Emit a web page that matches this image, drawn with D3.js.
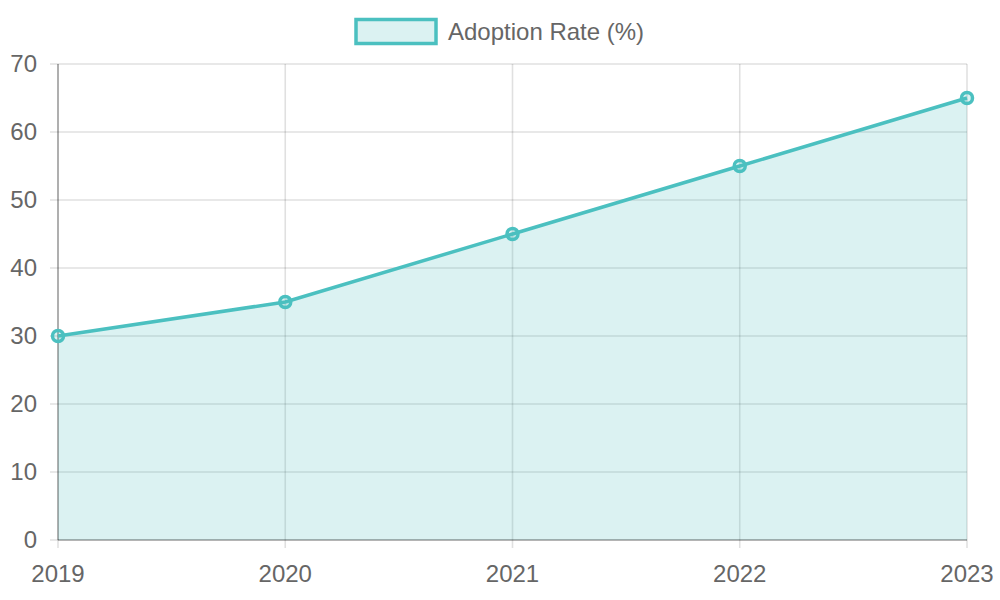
<!DOCTYPE html>
<html>
<head>
<meta charset="utf-8">
<script src="https://cdn.jsdelivr.net/npm/d3@7"></script>
<style>
  body { margin: 0; background: #fff; }
  text { font-family: "Liberation Sans", Arial, sans-serif; fill: #666; }
</style>
</head>
<body>
<div id="chart"></div>
<script>
// data
const years = ["2019", "2020", "2021", "2022", "2023"];
const adoption = [30, 35, 45, 55, 65];
const yTicks = [0, 10, 20, 30, 40, 50, 60, 70];
const seriesName = "Adoption Rate (%)";

const W = 1000, H = 600;
const margin = { top: 64, right: 33, bottom: 60, left: 58 };
const width = W - margin.left - margin.right;
const height = H - margin.top - margin.bottom;

const lineColor = "rgb(75,192,192)";
const fillColor = "rgba(75,192,192,0.2)";
const gridColor = "rgba(0,0,0,0.12)";

const svg = d3.select("#chart").append("svg")
  .attr("width", W).attr("height", H);

const g = svg.append("g")
  .attr("transform", `translate(${margin.left},${margin.top})`);

const x = d3.scalePoint().domain(years).range([0, width]);
const y = d3.scaleLinear().domain([0, 70]).range([height, 0]);

// horizontal grid + tick marks
g.selectAll(".ygrid")
  .data(yTicks)
  .join("line")
  .attr("x1", -8).attr("x2", width)
  .attr("y1", d => y(d)).attr("y2", d => y(d))
  .attr("stroke", gridColor).attr("stroke-width", 1.6);

// vertical grid + tick marks
g.selectAll(".xgrid")
  .data(years)
  .join("line")
  .attr("x1", d => x(d)).attr("x2", d => x(d))
  .attr("y1", 0).attr("y2", height + 8)
  .attr("stroke", gridColor).attr("stroke-width", 1.6);

// area
const area = d3.area()
  .x((d, i) => x(years[i]))
  .y0(y(0))
  .y1(d => y(d));

g.append("path")
  .datum(adoption)
  .attr("d", area)
  .attr("fill", fillColor);

// axis lines
g.append("line")
  .attr("x1", 0).attr("x2", 0).attr("y1", 0).attr("y2", height)
  .attr("stroke", "rgba(0,0,0,0.3)").attr("stroke-width", 1.6);
g.append("line")
  .attr("x1", 0).attr("x2", width).attr("y1", height).attr("y2", height)
  .attr("stroke", "rgba(0,0,0,0.3)").attr("stroke-width", 1.6);

// y labels
g.selectAll(".ylab")
  .data(yTicks)
  .join("text")
  .attr("x", -21)
  .attr("y", d => y(d))
  .attr("dy", "0.35em")
  .attr("text-anchor", "end")
  .style("font-size", "24px")
  .text(d => d);

// x labels
g.selectAll(".xlab")
  .data(years)
  .join("text")
  .attr("x", d => x(d))
  .attr("y", height + 42)
  .attr("text-anchor", "middle")
  .style("font-size", "24px")
  .text(d => d);

// line
const line = d3.line()
  .x((d, i) => x(years[i]))
  .y(d => y(d));

g.append("path")
  .datum(adoption)
  .attr("d", line)
  .attr("fill", "none")
  .attr("stroke", lineColor)
  .attr("stroke-width", 3.5);

// points
g.selectAll(".pt")
  .data(adoption)
  .join("circle")
  .attr("cx", (d, i) => x(years[i]))
  .attr("cy", d => y(d))
  .attr("r", 5.5)
  .attr("fill", fillColor)
  .attr("stroke", lineColor)
  .attr("stroke-width", 3.5);

// legend
const legend = svg.append("g");
legend.append("rect")
  .attr("x", 356).attr("y", 19.5)
  .attr("width", 80).attr("height", 24)
  .attr("fill", fillColor)
  .attr("stroke", lineColor)
  .attr("stroke-width", 3.5);
legend.append("text")
  .attr("x", 448).attr("y", 32)
  .attr("dy", "0.35em")
  .style("font-size", "24px")
  .text(seriesName);
</script>
</body>
</html>
